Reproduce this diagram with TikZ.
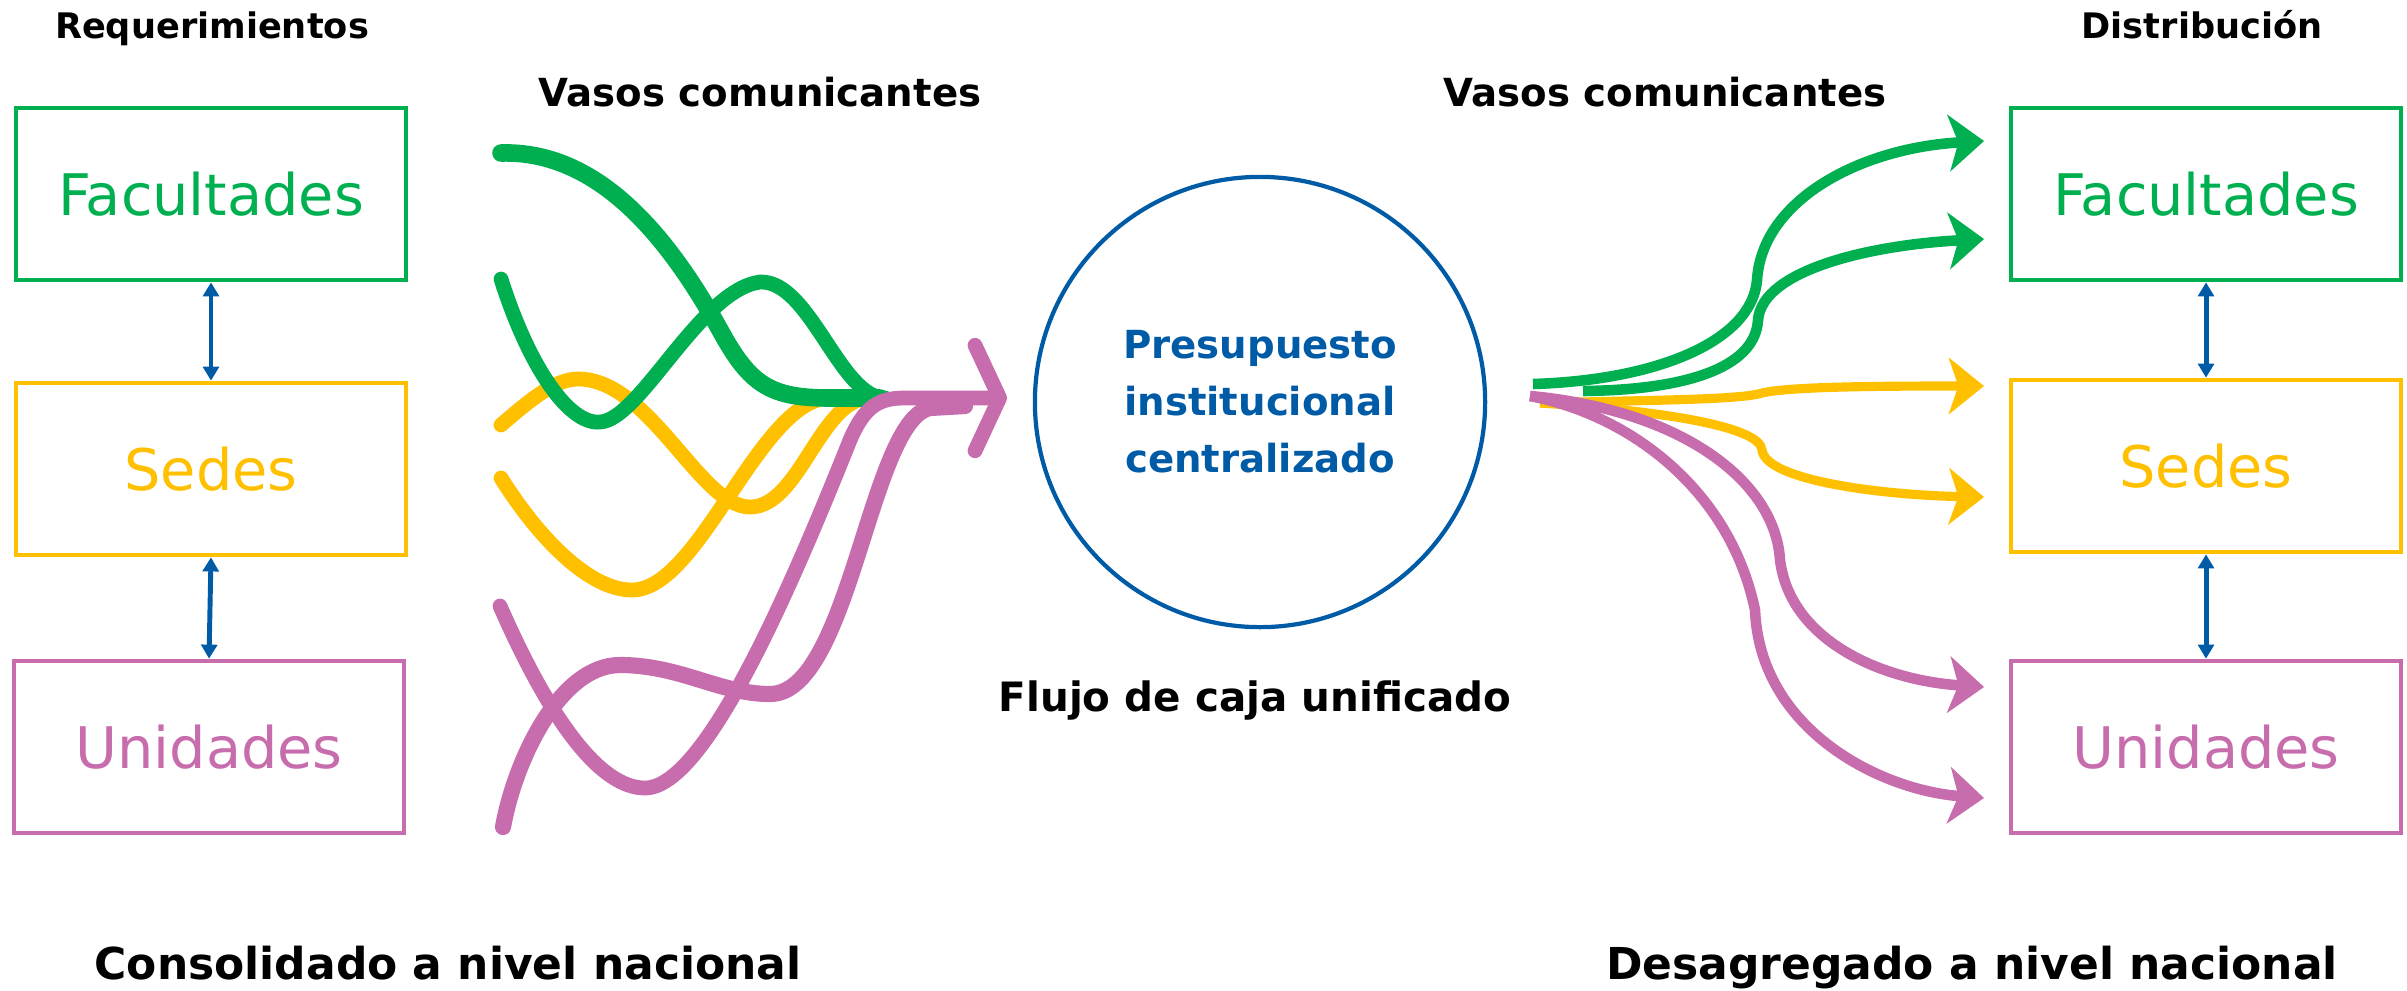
\documentclass[tikz,border=0pt]{standalone}
\usepackage{fontspec}
\setmainfont{DejaVu Sans}
\usetikzlibrary{arrows.meta}
\definecolor{verde}{RGB}{0,176,80}
\definecolor{amarillo}{RGB}{255,192,0}
\definecolor{rosa}{RGB}{199,108,172}
\definecolor{azul}{RGB}{0,91,166}

\begin{document}
\begin{tikzpicture}[x=0.01cm, y=-0.01cm,
    caja/.style={draw=#1, text=#1, line width=1.3pt, minimum width=3.9cm,
      minimum height=1.72cm, font=\fontsize{16.3}{18}\selectfont},
    titulo/.style={anchor=base, font=\bfseries\fontsize{10}{12}\selectfont},
    etiqueta/.style={font=\bfseries\fontsize{11}{13}\selectfont},
    pie/.style={anchor=base, font=\bfseries\fontsize{12.5}{15}\selectfont},
    doble/.style={azul, line width=1.4pt,
      {Triangle[length=4pt,width=4.5pt]}-{Triangle[length=4pt,width=4.5pt]}},
    flujo/.style={line width=4.2pt, line cap=round, line join=round},
    rama/.style={line width=3pt, -{Stealth[length=10pt,width=16pt,inset=2.7pt]}}]
  \useasboundingbox (0,0) rectangle (2407,990);

  % cajas
  \node[caja=verde] (facL) at (211,194) {Facultades};
  \node[caja=amarillo] (sedL) at (211,469) {Sedes};
  \node[caja=rosa] (uniL) at (209,747) {Unidades};
  \node[caja=verde] (facR) at (2206,194) {Facultades};
  \node[caja=amarillo] (sedR) at (2206,466) {Sedes};
  \node[caja=rosa] (uniR) at (2206,747) {Unidades};
  \draw[doble] (facL.south) -- (sedL.north);
  \draw[doble] (sedL.south) -- (uniL.north);
  \draw[doble] (facR.south) -- (sedR.north);
  \draw[doble] (sedR.south) -- (uniR.north);

  % textos
  \node[titulo] (req) at (212,38) {Requerimientos};
  \node[titulo] (dis) at (2202,38) {Distribución};
  \node[etiqueta] (vasL) at (760,92) {Vasos comunicantes};
  \node[etiqueta] (vasR) at (1665,92) {Vasos comunicantes};
  \node[etiqueta, font=\bfseries\fontsize{11.5}{14}\selectfont] (flujo) at (1255,700) {Flujo de caja unificado};
  \node[pie] (cons) at (448,979) {Consolidado a nivel nacional};
  \node[pie] (desag) at (1972,979) {Desagregado a nivel nacional};

  % presupuesto
  \node[circle, draw=azul, line width=1.2pt, minimum size=4.5cm] (pres) at (1260,402) {};
  \node[text=azul, align=center, font=\bfseries\fontsize{11}{16.2}\selectfont] (presTxt)
    at (pres.center) {Presupuesto\\institucional\\centralizado};

  % vasos comunicantes (entrada)
  \coordinate (tipL) at (1007,398);
  \draw[flujo, amarillo] (501,425) .. controls (530,400) and (555,379) .. (578,379)
    .. controls (650,379) and (700,507) .. (750,507) .. controls (800,507) and (820,398) .. (870,398);
  \draw[flujo, amarillo] (501,478) .. controls (540,540) and (590,590) .. (632,590)
    .. controls (700,590) and (760,398) .. (830,398) -- (870,398);
  \draw[flujo, verde, line width=5pt] (501,153) .. controls (600,150) and (670,240) .. (720,330)
    .. controls (750,385) and (770,398) .. (830,398) -- (880,398);
  \draw[flujo, verde] (501,279) .. controls (530,370) and (570,425) .. (600,422)
    .. controls (640,420) and (700,290) .. (760,282) .. controls (810,280) and (840,398) .. (885,398);
  \draw[flujo, rosa, line width=4.6pt] (503,827) .. controls (515,760) and (560,665) .. (620,665)
    .. controls (680,665) and (720,694) .. (770,694) .. controls (850,694) and (870,420) .. (930,408) -- (965,406);
  \draw[flujo, rosa, -{Straight Barb[length=7pt,width=30pt,round]}] (500,606) .. controls (550,720) and (600,788) .. (645,788)
    .. controls (705,788) and (790,590) .. (850,440) .. controls (865,405) and (880,398) .. (905,398) -- (tipL);

  % vasos comunicantes (salida)
  \draw[rama, amarillo, line width=2.6pt] (1540,403) .. controls (1650,400) and (1740,400) .. (1762,393)
    .. controls (1790,386) and (1900,386) .. (1984,386);
  \draw[rama, amarillo, line width=2.6pt] (1540,403) .. controls (1650,410) and (1760,425) .. (1762,450)
    .. controls (1765,480) and (1880,495) .. (1984,497);
  \draw[rama, rosa] (1530,396) .. controls (1680,410) and (1775,480) .. (1780,560)
    .. controls (1790,640) and (1880,680) .. (1984,687);
  \draw[rama, rosa] (1530,396) .. controls (1630,415) and (1730,490) .. (1755,610)
    .. controls (1760,730) and (1880,790) .. (1984,798);
  \draw[rama, verde] (1533,384) .. controls (1660,380) and (1752,340) .. (1757,280)
    .. controls (1762,200) and (1860,148) .. (1984,141);
  \draw[rama, verde] (1583,391) .. controls (1680,390) and (1755,370) .. (1758,320)
    .. controls (1762,270) and (1870,245) .. (1984,239);
\end{tikzpicture}
\end{document}
